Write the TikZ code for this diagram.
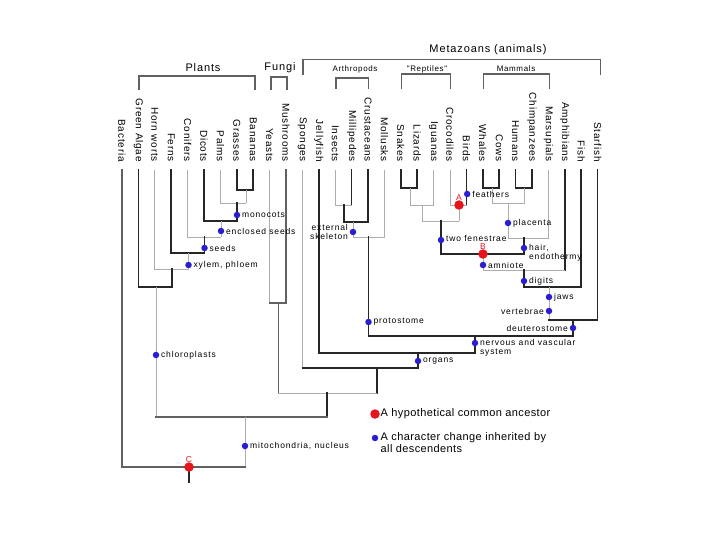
\documentclass[tikz,border=0pt]{standalone}
\usepackage{fontspec}
\setmainfont{Liberation Sans}
\newfontfamily\taxfam{Liberation Sans}[LetterSpace=8]
\newfontfamily\chrfam{Liberation Sans}[LetterSpace=10]
\newfontfamily\legfam{Liberation Sans}[LetterSpace=3.5]
\newfontfamily\hdrfam{Liberation Sans}[LetterSpace=8]
\newcommand\taxfont{\taxfam\fontsize{10}{12}\selectfont}
\newcommand\chrfont{\chrfam\fontsize{8.5}{9}\selectfont}
\newcommand\legfont{\legfam\fontsize{11}{12.5}\selectfont}
\newcommand\hdrfont{\hdrfam\fontsize{11}{13}\selectfont}
\newcommand\shdrfont{\hdrfam\fontsize{8}{10}\selectfont}
\newcommand\rlabfont{\fontsize{8.5}{10}\selectfont}
\definecolor{dotblue}{HTML}{2A1FD0}
\definecolor{dotred}{HTML}{E8141C}
\newcommand\cladebar[6]{%
  \draw[#4] (#2) -- (#2 |- #1);
  \draw[#5] (#3) -- (#3 |- #1);
  \draw[#6] (#2 |- #1) -- (#3 |- #1);}
\begin{document}
\begin{tikzpicture}[x=1pt,y=-1pt,
  dk/.style={draw=black!85, line width=1.7pt, line cap=rect},
  md/.style={draw=black!62, line width=1.3pt, line cap=rect},
  lt/.style={draw=black!32, line width=0.9pt, line cap=rect},
  taxon/.style={rotate=-90, anchor=east, inner sep=0pt, font=\taxfont},
  hdr/.style={font=\hdrfont, inner sep=0pt},
  shdr/.style={font=\shdrfont, inner sep=0pt},
  chr/.style={font=\chrfont, inner sep=0pt, align=left},
  legtext/.style={font=\legfont, inner sep=0pt, align=left},
  bdot/.style={circle, fill=dotblue, draw=none, inner sep=0pt, minimum size=6.5pt},
  rdot/.style={circle, fill=dotred, draw=none, inner sep=0pt, minimum size=9.5pt},
  rlab/.style={font=\rlabfont, text=dotred, inner sep=0pt}]
\useasboundingbox (0,0) rectangle (720,540);
% taxa
\foreach \n [count=\i from 0] in {Bacteria,Green Algae,Horn worts,Ferns,Conifers,Dicots,Palms,Grasses,Bananas,Yeasts,Mushrooms,Sponges,Jellyfish,Insects,Millipedes,Crustaceans,Mollusks,Snakes,Lizards,Iguanas,Crocodiles,Birds,Whales,Cows,Humans,Chimpanzees,Marsupials,Amphibians,Fish,Starfish}{
  \coordinate (t\i) at ({122+16.4*\i},170);
  \node[taxon] (lab\i) at ({122+16.4*\i},162) {\n};
}
% headers
\node[hdr] (hPlants) at (203,68) {Plants};
\node[hdr] (hFungi) at (280,68) {Fungi};
\node[hdr] (hMeta) at (488,50) {Metazoans (animals)};
\node[shdr] (hArth) at (355,69) {Arthropods};
\node[shdr] (hRept) at (427,69) {"Reptiles"};
\node[shdr] (hMam) at (516,69) {Mammals};
\coordinate (plL) at (139,89); \coordinate (plT) at (197,76); \coordinate (plR) at (255,89);
\draw[md] (plL) |- (plT) -| (plR);
\coordinate (fuL) at (271,89); \coordinate (fuT) at (279,77); \coordinate (fuR) at (287,89);
\draw[md] (fuL) |- (fuT) -| (fuR);
\coordinate (meL) at (303,74); \coordinate (meT) at (450,59.5); \coordinate (meR) at (600.5,74);
\draw[md] (meL) |- (meT) -| (meR);
\coordinate (arL) at (336,88); \coordinate (arT) at (352,78); \coordinate (arR) at (368.8,88);
\draw[md] (arL) |- (arT) -| (arR);
\coordinate (reL) at (401.6,88); \coordinate (reT) at (426,74); \coordinate (reR) at (450.8,88);
\draw[md] (reL) |- (reT) -| (reR);
\coordinate (maL) at (483.6,88); \coordinate (maT) at (516,74); \coordinate (maR) at (549.2,88);
\draw[md] (maL) |- (maT) -| (maR);
% internal nodes
\coordinate (nMono) at (246,190);
\coordinate (nPalm) at (237,203);
\coordinate (nDicot) at (221,221);
\coordinate (nConif) at (204.5,237);
\coordinate (nFern) at (188.5,253);
\coordinate (nHorn) at (172,269);
\coordinate (nPlant) at (156,287);
\coordinate (nFungi) at (278.5,303);
\coordinate (nInsMil) at (344,205);
\coordinate (nArth) at (353,222);
\coordinate (nProto) at (368.5,237);
\coordinate (nSnLi) at (410,188);
\coordinate (nSquam) at (422,205);
\coordinate (nArch) at (459,205);
\coordinate (nDiap) at (441,221);
\coordinate (nWhCow) at (492,188);
\coordinate (nHumCh) at (524.6,188);
\coordinate (nPlac) at (508,203);
\coordinate (nMam) at (524,238);
\coordinate (nAmn) at (483,254);
\coordinate (nTetra) at (524,270);
\coordinate (nGnath) at (549,287);
\coordinate (nDeut) at (573,320);
\coordinate (nBilat) at (475,336);
\coordinate (nOrg) at (418,353);
\coordinate (nMeta) at (377,368);
\coordinate (nOpist) at (327,393);
\coordinate (nEuk) at (245,417);
\coordinate (nRoot) at (189,467);
\coordinate (rootEnd) at (189,482);
% plants
\cladebar{nMono}{t7}{t8}{dk}{dk}{dk}
\cladebar{nPalm}{t6}{nMono}{lt}{lt}{lt}
\cladebar{nDicot}{t5}{nPalm}{dk}{dk}{dk}
\cladebar{nConif}{t4}{nDicot}{lt}{lt}{lt}
\cladebar{nFern}{t3}{nConif}{dk}{dk}{dk}
\cladebar{nHorn}{t2}{nFern}{lt}{lt}{lt}
\cladebar{nPlant}{t1}{nHorn}{dk}{dk}{dk}
% fungi
\cladebar{nFungi}{t9}{t10}{lt}{md}{md}
% arthropods etc
\cladebar{nInsMil}{t13}{t14}{lt}{dk}{lt}
\cladebar{nArth}{nInsMil}{t15}{dk}{dk}{dk}
\cladebar{nProto}{nArth}{t16}{lt}{lt}{lt}
% reptiles
\cladebar{nSnLi}{t17}{t18}{dk}{dk}{dk}
\cladebar{nSquam}{nSnLi}{t19}{lt}{lt}{lt}
\cladebar{nArch}{t20}{t21}{lt}{dk}{lt}
\cladebar{nDiap}{nSquam}{nArch}{lt}{lt}{lt}
% mammals
\cladebar{nWhCow}{t22}{t23}{dk}{dk}{dk}
\cladebar{nHumCh}{t24}{t25}{dk}{dk}{dk}
\cladebar{nPlac}{nWhCow}{nHumCh}{lt}{lt}{lt}
\cladebar{nMam}{nPlac}{t26}{lt}{lt}{lt}
\cladebar{nAmn}{nDiap}{nMam}{dk}{dk}{dk}
\cladebar{nTetra}{nAmn}{t27}{lt}{dk}{lt}
\cladebar{nGnath}{nTetra}{t28}{dk}{dk}{dk}
\cladebar{nDeut}{nGnath}{t29}{lt}{dk}{dk}
\cladebar{nBilat}{nProto}{nDeut}{dk}{dk}{dk}
\cladebar{nOrg}{t12}{nBilat}{dk}{dk}{dk}
\cladebar{nMeta}{t11}{nOrg}{lt}{dk}{dk}
\cladebar{nOpist}{nFungi}{nMeta}{md}{dk}{lt}
\cladebar{nEuk}{nPlant}{nOpist}{lt}{dk}{md}
\cladebar{nRoot}{t0}{nEuk}{md}{lt}{md}
\draw[dk] (nRoot) -- (rootEnd);
% character dots
\node[bdot] (dMono) at (237,215) {};
\node[chr, anchor=west] (cMono) at ([xshift=1.5pt]dMono.east) {monocots};
\node[bdot] (dEncl) at (221,231) {};
\node[chr, anchor=west] (cEncl) at ([xshift=1.5pt]dEncl.east) {enclosed seeds};
\node[bdot] (dSeed) at (204.5,248) {};
\node[chr, anchor=west] (cSeed) at ([xshift=1.5pt]dSeed.east) {seeds};
\node[bdot] (dXyl) at (188.5,265) {};
\node[chr, anchor=west] (cXyl) at ([xshift=1.5pt]dXyl.east) {xylem, phloem};
\node[bdot] (dChl) at (156,355) {};
\node[chr, anchor=west] (cChl) at ([xshift=1.5pt]dChl.east) {chloroplasts};
\node[bdot] (dMito) at (245,446) {};
\node[chr, anchor=west] (cMito) at ([xshift=1.5pt]dMito.east) {mitochondria, nucleus};
\node[bdot] (dExt) at (353,232) {};
\node[chr, anchor=east, align=right] (cExt) at ([xshift=-1.5pt]dExt.west) {external\\skeleton};
\node[bdot] (dFeat) at (467.2,194) {};
\node[chr, anchor=west] (cFeat) at ([xshift=1.5pt]dFeat.east) {feathers};
\node[bdot] (dPlac) at (508,223) {};
\node[chr, anchor=west] (cPlac) at ([xshift=1.5pt]dPlac.east) {placenta};
\node[bdot] (dFen) at (441,240) {};
\node[chr, anchor=west] (cFen) at ([xshift=1.5pt,yshift=1.8pt]dFen.east) {two fenestrae};
\node[bdot] (dHair) at (524,248) {};
\node[chr, anchor=north west] (cHair) at ([xshift=1.5pt,yshift=4pt]dHair.east) {hair,\\endothermy};
\node[bdot] (dAmn) at (483,265) {};
\node[chr, anchor=west] (cAmn) at ([xshift=1.5pt]dAmn.east) {amniote};
\node[bdot] (dDig) at (524,281) {};
\node[chr, anchor=west] (cDig) at ([xshift=1.5pt]dDig.east) {digits};
\node[bdot] (dJaw) at (549,297) {};
\node[chr, anchor=west] (cJaw) at ([xshift=1.5pt]dJaw.east) {jaws};
\node[bdot] (dVert) at (549,311) {};
\node[chr, anchor=east] (cVert) at ([xshift=-1.5pt]dVert.west) {vertebrae};
\node[bdot] (dDeut) at (573,328) {};
\node[chr, anchor=east] (cDeut) at ([xshift=-1.5pt]dDeut.west) {deuterostome};
\node[bdot] (dProt) at (368.5,322) {};
\node[chr, anchor=west] (cProt) at ([xshift=1.5pt]dProt.east) {protostome};
\node[bdot] (dNerv) at (475,343) {};
\node[chr, anchor=north west] (cNerv) at ([xshift=1.5pt,yshift=4pt]dNerv.east) {nervous and vascular\\system};
\node[bdot] (dOrg) at (418,361) {};
\node[chr, anchor=west] (cOrg) at ([xshift=1.5pt]dOrg.east) {organs};
% ancestors
\node[rdot] (aA) at (459,205) {};
\node[rlab] (lA) at ([yshift=7pt]aA.center) {A};
\node[rdot] (aB) at (483,254) {};
\node[rlab] (lB) at ([yshift=7pt]aB.center) {B};
\node[rdot] (aC) at (189,467) {};
\node[rlab] (lC) at ([yshift=7pt]aC.center) {C};
% legend
\node[rdot] (legR) at (375,414) {};
\node[legtext, anchor=west] (legRt) at (380.5,414) {A hypothetical common ancestor};
\node[bdot] (legB) at (375,438) {};
\node[legtext, anchor=north west] (legBt) at (380.5,432) {A character change inherited by\\all descendents};
\end{tikzpicture}
\end{document}
